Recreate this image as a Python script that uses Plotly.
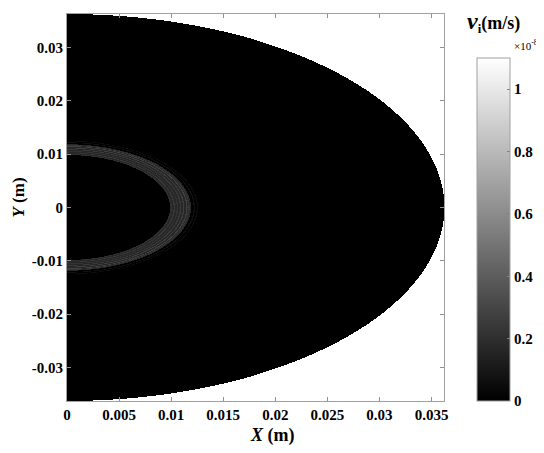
import numpy as np
import plotly.graph_objects as go

# ---- data ----
disk_radius = 0.0362          # outer boundary of the computed half-disk (m)
band_inner = 0.0099           # inner edge of the gray ring band (m)
band_outer = 0.0119           # outer edge of the gray ring band (m)
band_value = 0.17e-8          # background level inside the band (m/s)
ring_radii = [0.0100, 0.0103, 0.0106, 0.0109, 0.0112, 0.0115, 0.0117, 0.0122, 0.0125]
ring_values = [0.21e-8, 0.24e-8, 0.22e-8, 0.25e-8, 0.27e-8, 0.28e-8, 0.23e-8, 0.07e-8, 0.05e-8]
ring_width = 0.00012
x_ticks = [0, 0.005, 0.01, 0.015, 0.02, 0.025, 0.03, 0.035]
x_labels = ["0", "0.005", "0.01", "0.015", "0.02", "0.025", "0.03", "0.035"]
y_ticks = [-0.03, -0.02, -0.01, 0, 0.01, 0.02, 0.03]
y_labels = ["-0.03", "-0.02", "-0.01", "0", "0.01", "0.02", "0.03"]
cb_ticks = [0, 0.2e-8, 0.4e-8, 0.6e-8, 0.8e-8, 1.0e-8]
cb_labels = ["0", "0.2", "0.4", "0.6", "0.8", "1"]
c_max = 1.1e-8

# ---- field built from the values above ----
xs = np.linspace(0, 0.0362, 380)
ys = np.linspace(-0.0363, 0.0363, 390)
X, Y = np.meshgrid(xs, ys)
R = np.sqrt(X**2 + Y**2)
Z = np.zeros_like(R)
Z[(R >= band_inner) & (R <= band_outer)] = band_value
for r0, v in zip(ring_radii, ring_values):
    mask = np.abs(R - r0) <= ring_width / 2
    Z[mask] = np.maximum(Z[mask], v)
Z[R > disk_radius] = np.nan

serif = "Liberation Serif"

fig = go.Figure(go.Heatmap(
    x=xs, y=ys, z=Z, zsmooth=False,
    colorscale=[[0, "black"], [1, "white"]], zmin=0, zmax=c_max,
    hoverongaps=False,
    colorbar=dict(
        x=1.0875, xanchor="left", xref="paper",
        y=0.0, yanchor="bottom", yref="paper",
        lenmode="pixels", len=343, thickness=33, thicknessmode="pixels",
        ypad=0, xpad=0,
        outlinecolor="#a0a0a0", outlinewidth=1,
        tickvals=cb_ticks, ticktext=cb_labels,
        ticks="inside", ticklen=3, tickcolor="#808080",
        tickfont=dict(family=serif, size=15, color="black", weight="bold"),
    ),
))

axis_common = dict(
    showgrid=False, zeroline=False, showline=True, linecolor="#a0a0a0",
    linewidth=1, mirror="ticks", ticks="inside", ticklen=4, tickcolor="#909090",
    automargin=False,
    tickfont=dict(family=serif, size=15, color="black", weight="bold"),
)
fig.update_xaxes(range=[0, 0.0362], tickvals=x_ticks, ticktext=x_labels, **axis_common)
fig.update_yaxes(range=[-0.0363, 0.0363], tickvals=y_ticks, ticktext=y_labels, **axis_common)

# the page body has an 8px margin, so the figure is 8px smaller and shifted
fig.update_layout(
    width=536, height=445,
    margin=dict(l=59, r=100, t=6, b=52, autoexpand=False),
    plot_bgcolor="white", paper_bgcolor="white",
    showlegend=False,
    annotations=[
        dict(text="<b><i>X</i> (m)</b>", xref="paper", yref="paper", x=0.546, y=-0.088,
             xanchor="center", yanchor="middle", showarrow=False,
             font=dict(family=serif, size=18, color="black")),
        dict(text="<b><i>Y</i> (m)</b>", xref="paper", yref="paper", x=-0.128, y=0.525,
             xanchor="center", yanchor="middle", textangle=-90, showarrow=False,
             font=dict(family=serif, size=17, color="black")),
        dict(text="<b><i><span style='font-size:24px'>v</span></i><sub>i</sub>(m/s)</b>",
             xref="paper", yref="paper", x=1.055, y=0.98, xanchor="left", yanchor="middle",
             showarrow=False, font=dict(family=serif, size=18, color="black")),
        dict(text="×10<sup>-8</sup>", xref="paper", yref="paper", x=1.254, y=0.92,
             xanchor="right", yanchor="middle", showarrow=False,
             font=dict(family=serif, size=11, color="black")),
    ],
)

fig.write_html("out.html")
